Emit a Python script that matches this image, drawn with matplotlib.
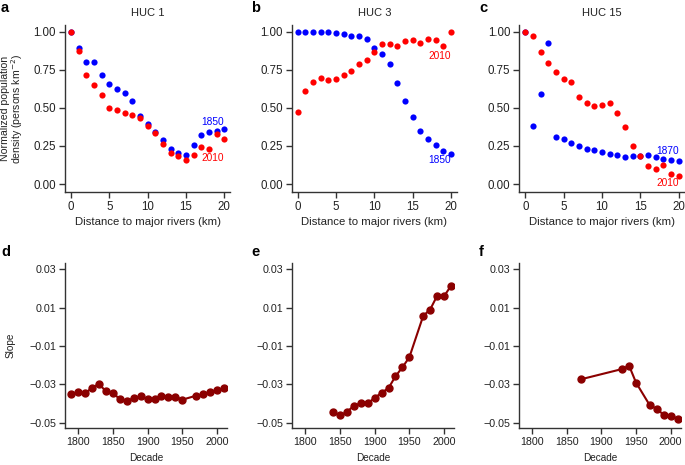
import matplotlib
matplotlib.use("Agg")
import matplotlib.pyplot as plt
import numpy as np

plt.rcParams['font.family'] = ['Liberation Sans', 'DejaVu Sans']

# ---- data ----
dist = list(range(21))

huc1_1850 = [1.00, 0.891, 0.803, 0.803, 0.713, 0.659, 0.621, 0.595, 0.547, 0.449, 0.396,
             0.344, 0.289, 0.228, 0.206, 0.193, 0.254, 0.322, 0.341, 0.350, 0.361]
huc1_2010 = [1.00, 0.871, 0.713, 0.648, 0.582, 0.501, 0.484, 0.464, 0.455, 0.431, 0.383,
             0.335, 0.265, 0.204, 0.182, 0.160, 0.190, 0.243, 0.232, 0.330, 0.298]

huc3_1850 = [1.00, 1.00, 1.00, 1.00, 1.00, 0.989, 0.982, 0.971, 0.974, 0.954, 0.890,
             0.851, 0.785, 0.664, 0.544, 0.439, 0.346, 0.296, 0.254, 0.217, 0.200]
huc3_2010 = [0.474, 0.610, 0.673, 0.693, 0.686, 0.689, 0.717, 0.743, 0.787, 0.811, 0.868,
             0.921, 0.917, 0.908, 0.939, 0.945, 0.923, 0.950, 0.945, 0.906, 1.00]

huc15_1870 = [1.00, 0.382, 0.592, 0.923, 0.309, 0.294, 0.270, 0.250, 0.232, 0.224, 0.211,
              0.200, 0.191, 0.178, 0.182, 0.185, 0.189, 0.178, 0.164, 0.160, 0.154]
huc15_2010 = [1.00, 0.974, 0.864, 0.792, 0.735, 0.691, 0.671, 0.572, 0.529, 0.509, 0.518,
              0.533, 0.467, 0.371, 0.248, 0.182, 0.121, 0.096, 0.127, 0.066, 0.050]

dec_d = [1790, 1800, 1810, 1820, 1830, 1840, 1850, 1860, 1870, 1880, 1890, 1900, 1910,
         1920, 1930, 1940, 1950, 1970, 1980, 1990, 2000, 2010]
slope_d = [-0.0350, -0.0342, -0.0347, -0.0317, -0.0298, -0.0337, -0.0344, -0.0378, -0.0385,
           -0.0373, -0.0363, -0.0378, -0.0377, -0.0361, -0.0366, -0.0364, -0.0380,
           -0.0359, -0.0352, -0.0338, -0.0331, -0.0321]

dec_e = [1840, 1850, 1860, 1870, 1880, 1890, 1900, 1910, 1920, 1930, 1940, 1950,
         1970, 1980, 1990, 2000, 2010]
slope_e = [-0.0443, -0.0462, -0.0444, -0.0411, -0.0399, -0.0399, -0.0370, -0.0344, -0.0319,
           -0.0258, -0.0211, -0.0159, 0.0057, 0.0090, 0.0161, 0.0159, 0.0213]

dec_f = [1870, 1930, 1940, 1950, 1970, 1980, 1990, 2000, 2010]
slope_f = [-0.0274, -0.0220, -0.0203, -0.0291, -0.0410, -0.0427, -0.0460, -0.0463, -0.0479]

top_panels = [
    ("a", "HUC 1", huc1_1850, huc1_2010, "1850", (20, 0.405), (20, 0.17)),
    ("b", "HUC 3", huc3_1850, huc3_2010, "1850", (20, 0.155), (20, 0.84)),
    ("c", "HUC 15", huc15_1870, huc15_2010, "1870", (20.1, 0.215), (20.1, 0.005)),
]
bottom_panels = [("d", dec_d, slope_d), ("e", dec_e, slope_e), ("f", dec_f, slope_f)]

W, H = 685, 465
fig = plt.figure(figsize=(W / 100, H / 100), dpi=100)

txt = '#222222'


def px_axes(left, right, top, bottom):
    return fig.add_axes([left / W, 1 - bottom / H, (right - left) / W, (bottom - top) / H])


def style(ax, fs):
    for s in ['top', 'right']:
        ax.spines[s].set_visible(False)
    for s in ['left', 'bottom']:
        ax.spines[s].set_linewidth(1.0)
        ax.spines[s].set_color('#333333')
    ax.tick_params(direction='out', length=4, width=1.0, color='#333333',
                   labelsize=fs, labelcolor=txt, pad=2.5)


top_lefts = [65, 291.7, 519.3]
for i, (letter, title, old, new, oldlab, oldpos, newpos) in enumerate(top_panels):
    l = top_lefts[i]
    ax = px_axes(l, l + 165.4, 25, 192)
    style(ax, 8.3)
    ax.scatter(dist, old, s=20, color='blue', linewidths=0, zorder=3)
    ax.scatter(dist, new, s=20, color='red', linewidths=0, zorder=4)
    ax.set_xlim(-0.78, 20.8)
    ax.set_ylim(-0.0525, 1.044)
    ax.set_xticks([0, 5, 10, 15, 20])
    ax.set_yticks([0, 0.25, 0.5, 0.75, 1.0])
    ax.set_yticklabels(['0.00', '0.25', '0.50', '0.75', '1.00'])
    ax.text(oldpos[0], oldpos[1], oldlab, color='blue', ha='right', va='center', fontsize=7.3)
    ax.text(newpos[0], newpos[1], "2010", color='red', ha='right', va='center', fontsize=7.3)
    ax.set_xlabel("Distance to major rivers (km)", fontsize=8.2, color=txt, labelpad=3)
    fig.text((l + 82.7) / W, 1 - 13 / H, title, ha='center', va='center', fontsize=8, color=txt)
    if i == 0:
        ax.set_ylabel("Normalized population\ndensity (persons km$^{-2}$)", fontsize=7.6,
                      color=txt, linespacing=0.95)
        ax.yaxis.set_label_coords(-0.24, 0.5)

letter_x = [1, 251, 479]
for i, l in enumerate("abc"):
    fig.text(letter_x[i] / W, 1 - 8 / H, l, fontsize=10.5, fontweight='bold', ha='left', va='center')

bottom_lefts = [65.3, 292.4, 519.1]
for i, (letter, dec, slope) in enumerate(bottom_panels):
    l = bottom_lefts[i]
    ax = px_axes(l, l + 162, 263.3, 428.3)
    style(ax, 7.7)
    ax.plot(dec, slope, color='#8B0000', lw=1.5, marker='o', markersize=5, zorder=3)
    ax.set_xlim(1781.3, 2015)
    ax.set_ylim(-0.0529, 0.0331)
    ax.set_xticks([1800, 1850, 1900, 1950, 2000])
    ax.set_yticks([-0.05, -0.03, -0.01, 0.01, 0.03])
    ax.set_yticklabels(['\u22120.05', '\u22120.03', '\u22120.01', '0.01', '0.03'])
    ax.set_xlabel("Decade", fontsize=7.2, color=txt, labelpad=4)
    if i == 0:
        ax.set_ylabel("Slope", fontsize=7.2, color=txt)
        ax.yaxis.set_label_coords(-0.31, 0.5)
    fig.text(letter_x[i] / W, 1 - 252 / H, letter, fontsize=10.5, fontweight='bold',
             ha='left', va='center')

fig.savefig("out.png", dpi=100)
